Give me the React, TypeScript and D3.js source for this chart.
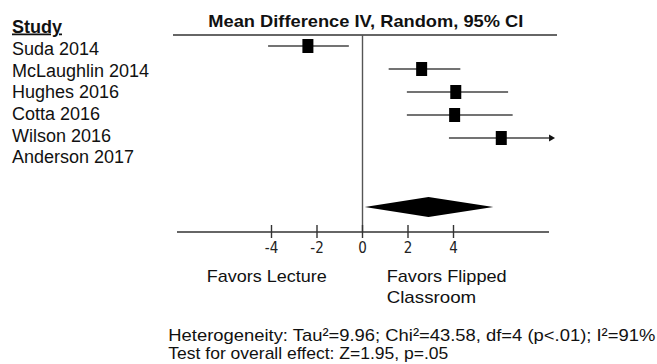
import React from "react";
import * as d3 from "d3";

const studies = ["Suda 2014", "McLaughlin 2014", "Hughes 2016", "Cotta 2016", "Wilson 2016", "Anderson 2017"];
const plotted = ["Suda 2014", "McLaughlin 2014", "Hughes 2016", "Cotta 2016", "Wilson 2016"];
const means = [-2.4, 2.6, 4.1, 4.05, 6.1];
const lower = [-4.15, 1.15, 1.95, 1.95, 3.8];
const upper = [-0.6, 4.3, 6.4, 6.6, 8.2];
const arrowRight = [false, false, false, false, true];
const pooled = { mean: 2.9, lower: 0.1, upper: 5.75 };
const ticks = [-4, -2, 0, 2, 4];
const title = "Mean Difference IV, Random, 95% CI";
const favorsLeft = ["Favors Lecture"];
const favorsRight = ["Favors Flipped", "Classroom"];
const footer = [
  "Heterogeneity: Tau\u00B2=9.96; Chi\u00B2=43.58, df=4 (p<.01); I\u00B2=91%",
  "Test for overall effect: Z=1.95, p=.05",
];

export default function App() {
  const W = 657, H = 364;
  const x = d3.scaleLinear().domain([0, 4]).range([362.5, 453.5]);
  const yMark = d3.scalePoint<string>().domain(plotted).range([46, 138]);
  const yLabel = d3.scalePoint<string>().domain(studies).range([55, 163.3]);
  const axisY = 232;
  const font = "'Liberation Sans', Arial, sans-serif";
  const diamond = d3.line()([
    [x(pooled.lower), 207],
    [x(pooled.mean), 197],
    [x(pooled.upper), 207],
    [x(pooled.mean), 217],
  ]) + "Z";
  const footerWidths = [487, 280];
  const rightWidths = [120, 89.5];
  return (
    <svg width={W} height={H} style={{ position: "absolute", left: 0, top: 0, background: "#fff" }}>
      <text x={12} y={32.5} fontFamily={font} fontSize={17.5} fontWeight="bold" textDecoration="underline" fill="#111" textLength={50} lengthAdjust="spacingAndGlyphs">Study</text>
      {studies.map((s) => (
        <text key={s} x={12} y={yLabel(s)} fontFamily={font} fontSize={18} fill="#111">{s}</text>
      ))}
      <text x={208.3} y={26.7} fontFamily={font} fontSize={17} fontWeight="bold" fill="#111" textLength={315} lengthAdjust="spacingAndGlyphs">
        {title}
      </text>
      <line x1={173} x2={557} y1={35} y2={35} stroke="#333" strokeWidth={1.3} />
      <line x1={x(0)} x2={x(0)} y1={35} y2={axisY} stroke="#555" strokeWidth={1.4} />
      {plotted.map((s, i) => {
        const y = yMark(s)!;
        return (
          <g key={s}>
            <line x1={x(lower[i])} x2={x(upper[i])} y1={y} y2={y} stroke="#444" strokeWidth={1.6} />
            {arrowRight[i] && (
              <path d={`M${x(upper[i])},${y - 3.5}L${x(upper[i]) + 6},${y}L${x(upper[i])},${y + 3.5}Z`} fill="#111" />
            )}
            <rect x={x(means[i]) - 5.5} y={y - 7} width={11} height={14} fill="#000" />
          </g>
        );
      })}
      <path d={diamond} fill="#000" />
      <line x1={177} x2={549} y1={axisY} y2={axisY} stroke="#333" strokeWidth={1.4} />
      {ticks.map((t) => (
        <g key={t}>
          <line x1={x(t)} x2={x(t)} y1={axisY - 7} y2={axisY + 6} stroke="#333" strokeWidth={1.4} />
          <text x={x(t)} y={252.7} textAnchor="middle" fontFamily="'Liberation Sans Narrow', 'DejaVu Sans Condensed', sans-serif" fontSize={15} fill="#222">{t}</text>
        </g>
      ))}
      {favorsLeft.map((f) => (
        <text key={f} x={206.7} y={281.7} fontFamily={font} fontSize={17} fill="#111" textLength={120} lengthAdjust="spacingAndGlyphs">{f}</text>
      ))}
      {favorsRight.map((f, i) => (
        <text key={f} x={386.7} y={281.7 + i * 21.6} fontFamily={font} fontSize={17} fill="#111" textLength={rightWidths[i]} lengthAdjust="spacingAndGlyphs">{f}</text>
      ))}
      {footer.map((f, i) => (
        <text key={f} x={168.3} y={340.7 + i * 17.8} fontFamily={font} fontSize={17} fill="#111" textLength={footerWidths[i]} lengthAdjust="spacingAndGlyphs">{f}</text>
      ))}
    </svg>
  );
}
